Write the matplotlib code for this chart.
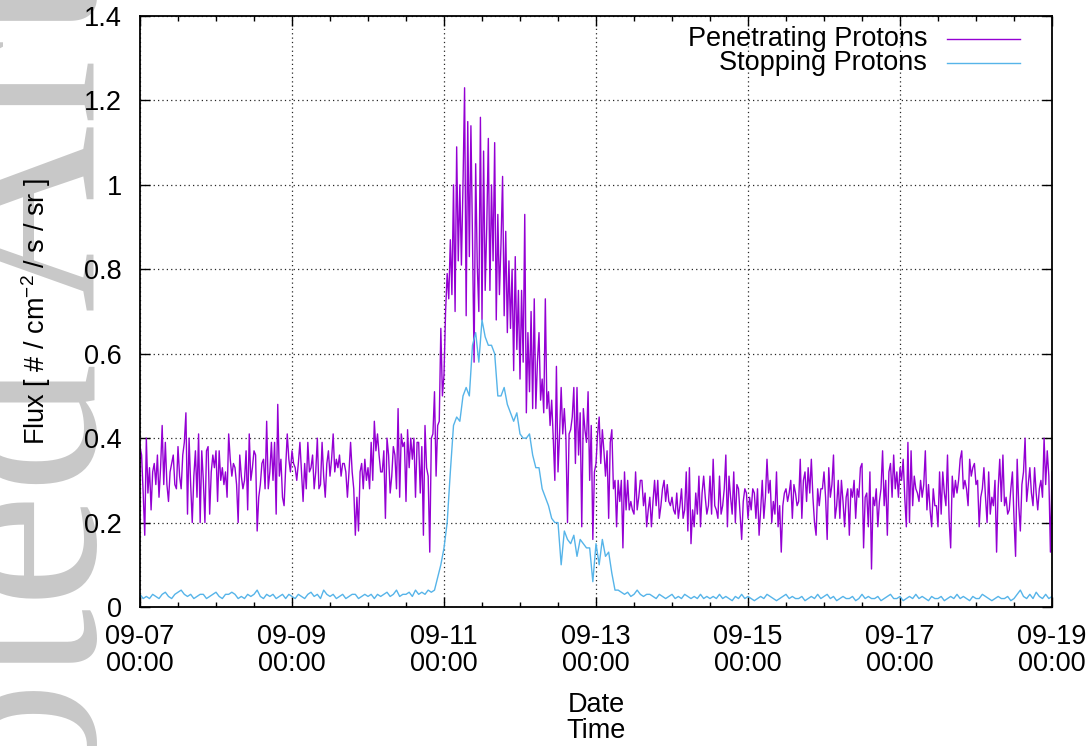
import matplotlib
matplotlib.use('Agg')
import matplotlib.pyplot as plt
import matplotlib.dates as mdates
from matplotlib.lines import Line2D
from datetime import datetime, timedelta

plt.rcParams['font.family'] = ['Liberation Sans', 'DejaVu Sans']
plt.rcParams['mathtext.fontset'] = 'custom'
plt.rcParams['mathtext.rm'] = 'Liberation Sans'
plt.rcParams['mathtext.default'] = 'regular'

# penetrating protons, 30-min samples starting 09-07 00:00
pen_0907 = [0.38, 0.36, 0.27, 0.17, 0.40, 0.27, 0.33, 0.23, 0.32, 0.34, 0.29, 0.36, 0.26, 0.33, 0.43, 0.29,
            0.39, 0.29, 0.25, 0.32, 0.34, 0.36, 0.29, 0.28, 0.38, 0.31, 0.28, 0.36, 0.39, 0.46, 0.22, 0.40,
            0.29, 0.20, 0.31, 0.37, 0.26, 0.41, 0.20, 0.37, 0.30, 0.20, 0.37, 0.38, 0.22, 0.32, 0.36, 0.33,
            0.37, 0.25, 0.37, 0.30, 0.33, 0.29, 0.32, 0.26, 0.41, 0.35, 0.31, 0.34, 0.33, 0.29, 0.20, 0.36,
            0.31, 0.28, 0.30, 0.37, 0.23, 0.41, 0.30, 0.33]
pen_0908 = [0.37, 0.36, 0.18, 0.26, 0.29, 0.34, 0.35, 0.28, 0.44, 0.28, 0.32, 0.39, 0.30, 0.39, 0.22, 0.48,
            0.31, 0.35, 0.26, 0.24, 0.33, 0.41, 0.35, 0.32, 0.37, 0.34, 0.33, 0.30, 0.34, 0.39, 0.32, 0.25,
            0.34, 0.28, 0.39, 0.32, 0.33, 0.36, 0.28, 0.32, 0.40, 0.28, 0.29, 0.39, 0.31, 0.26, 0.34, 0.37,
            0.31, 0.35, 0.41, 0.32, 0.35, 0.33, 0.36, 0.31, 0.34, 0.34, 0.32, 0.26, 0.32, 0.39, 0.32, 0.28,
            0.17, 0.26, 0.18, 0.32, 0.34, 0.28, 0.35, 0.30]
pen_0910 = [0.33, 0.28, 0.39, 0.30, 0.44, 0.37, 0.41, 0.36, 0.32, 0.32, 0.37, 0.21, 0.40, 0.36, 0.27, 0.31,
            0.38, 0.36, 0.28, 0.47, 0.26, 0.41, 0.38, 0.39, 0.25, 0.42, 0.33, 0.40, 0.35, 0.40, 0.26, 0.39,
            0.39, 0.27, 0.38, 0.17, 0.43, 0.33, 0.31, 0.13, 0.40, 0.41, 0.51, 0.31, 0.43, 0.44, 0.66, 0.50]
pen_onset = [0.55, 0.70, 0.79, 0.73, 0.87, 0.74, 1.00, 0.70, 1.09, 0.82, 1.00, 0.81, 1.00, 1.23, 0.69, 1.15,
             0.83, 1.14, 0.87, 0.58, 1.05, 0.81, 0.70]
pen_0911 = [1.16, 0.68, 1.08, 0.75, 0.90, 1.11, 0.75, 1.00, 0.82, 1.10, 0.68, 0.93, 0.74, 0.86, 1.02, 0.69,
            0.89, 0.65, 0.82, 0.66, 0.80, 0.56, 0.83, 0.61, 0.75, 0.54, 0.75, 0.58, 0.93, 0.46, 0.65, 0.51,
            0.70, 0.47, 0.73, 0.47, 0.58, 0.65, 0.49, 0.54, 0.46, 0.73, 0.47, 0.51, 0.43, 0.49, 0.40, 0.30,
            0.57, 0.32, 0.41, 0.52, 0.41, 0.47, 0.40, 0.20, 0.41, 0.42, 0.45, 0.52, 0.34, 0.52, 0.36, 0.46,
            0.19, 0.47, 0.42, 0.39, 0.51, 0.30, 0.43, 0.16]
pen_0913 = [0.32, 0.34, 0.41, 0.45, 0.34, 0.42, 0.37, 0.31, 0.37, 0.21, 0.39, 0.42, 0.28, 0.30, 0.19, 0.30,
            0.25, 0.30, 0.14, 0.32, 0.23, 0.30, 0.23, 0.25, 0.23, 0.22, 0.32, 0.23, 0.26, 0.30, 0.30, 0.24,
            0.27, 0.19, 0.23, 0.26, 0.19, 0.25, 0.30, 0.24, 0.30, 0.21, 0.24, 0.28, 0.30, 0.25, 0.29, 0.25,
            0.24, 0.26, 0.23, 0.22, 0.27, 0.21, 0.24, 0.28, 0.21, 0.23, 0.32, 0.18, 0.33, 0.15, 0.23, 0.19,
            0.27, 0.22, 0.31, 0.19, 0.27, 0.31, 0.26, 0.22]
pen_0914 = [0.24, 0.31, 0.22, 0.35, 0.24, 0.23, 0.21, 0.31, 0.22, 0.24, 0.28, 0.36, 0.19, 0.31, 0.26, 0.22,
            0.32, 0.20, 0.29, 0.28, 0.22, 0.16, 0.25, 0.28, 0.27, 0.21, 0.26, 0.23, 0.28, 0.27, 0.21, 0.28,
            0.17, 0.23, 0.30, 0.21, 0.26, 0.35, 0.27, 0.30, 0.20, 0.25, 0.22, 0.32, 0.19, 0.24, 0.13, 0.24,
            0.27, 0.28, 0.25, 0.27, 0.30, 0.21, 0.29, 0.27, 0.24, 0.25, 0.35, 0.21, 0.30, 0.32, 0.25, 0.33,
            0.27, 0.35, 0.26, 0.20, 0.17, 0.28, 0.24, 0.28]
pen_0916 = [0.28, 0.32, 0.26, 0.16, 0.33, 0.26, 0.29, 0.36, 0.21, 0.24, 0.30, 0.21, 0.30, 0.25, 0.19, 0.26,
            0.28, 0.17, 0.28, 0.26, 0.30, 0.21, 0.28, 0.26, 0.33, 0.34, 0.14, 0.26, 0.27, 0.19, 0.32, 0.09,
            0.26, 0.24, 0.28, 0.19, 0.25, 0.28, 0.37, 0.24, 0.30, 0.17, 0.32, 0.34, 0.26, 0.36, 0.28, 0.32,
            0.26, 0.33, 0.30, 0.35, 0.26, 0.19, 0.39, 0.20, 0.37, 0.24, 0.31, 0.28, 0.27, 0.25, 0.30, 0.26,
            0.29, 0.37, 0.23, 0.29, 0.23, 0.19, 0.28, 0.24]
pen_0917 = [0.24, 0.19, 0.32, 0.22, 0.32, 0.27, 0.24, 0.36, 0.21, 0.14, 0.31, 0.26, 0.30, 0.27, 0.30, 0.35,
            0.37, 0.28, 0.30, 0.28, 0.24, 0.35, 0.31, 0.33, 0.34, 0.29, 0.30, 0.19, 0.26, 0.28, 0.33, 0.26,
            0.20, 0.32, 0.22, 0.26, 0.24, 0.30, 0.13, 0.28, 0.35, 0.25, 0.36, 0.24, 0.26, 0.22, 0.23, 0.28,
            0.32, 0.21, 0.12, 0.35, 0.24, 0.18, 0.29, 0.32, 0.40, 0.25, 0.29, 0.33, 0.27, 0.24, 0.33, 0.27,
            0.23, 0.28, 0.30, 0.26, 0.40, 0.29, 0.37, 0.31, 0.13, 0.32]

# stopping protons, hourly samples starting 09-07 00:00
stop_0907 = [0.03, 0.02, 0.025, 0.02, 0.03, 0.025, 0.02, 0.03, 0.035, 0.025, 0.02, 0.03, 0.035, 0.04, 0.03, 0.025,
             0.03, 0.02, 0.025, 0.03, 0.03, 0.02, 0.025, 0.03, 0.035, 0.025, 0.02, 0.03, 0.03, 0.035, 0.03, 0.02,
             0.025, 0.02, 0.03, 0.025]
stop_0908 = [0.03, 0.04, 0.025, 0.02, 0.03, 0.025, 0.03, 0.02, 0.025, 0.03, 0.02, 0.03, 0.025, 0.02, 0.03, 0.025,
             0.02, 0.03, 0.035, 0.025, 0.03, 0.02, 0.04, 0.03, 0.025, 0.03, 0.02, 0.025, 0.03, 0.02, 0.025, 0.03,
             0.03, 0.02, 0.025, 0.03]
stop_0910 = [0.025, 0.03, 0.02, 0.03, 0.025, 0.03, 0.035, 0.025, 0.03, 0.04, 0.025, 0.03, 0.03, 0.035, 0.025, 0.04,
             0.03, 0.035, 0.03, 0.04, 0.035]
stop_onset = [0.04, 0.07, 0.10, 0.14, 0.20, 0.32, 0.43, 0.45, 0.44, 0.50, 0.52, 0.50, 0.62, 0.65, 0.58]
stop_decay = [0.68, 0.64, 0.62, 0.62, 0.60, 0.50, 0.50, 0.52, 0.48, 0.46, 0.44, 0.46, 0.41, 0.40, 0.40, 0.41,
              0.36, 0.33, 0.33, 0.28, 0.26, 0.24, 0.21, 0.20, 0.20, 0.10, 0.18, 0.16, 0.15, 0.17, 0.12, 0.16,
              0.15, 0.14, 0.14, 0.06]
stop_0913 = [0.15, 0.10, 0.16, 0.12, 0.13, 0.08, 0.04]
stop_0914 = [0.04, 0.035, 0.03, 0.035, 0.025, 0.03, 0.04, 0.03, 0.025, 0.03, 0.03, 0.025, 0.02, 0.03, 0.025, 0.02,
             0.025, 0.03, 0.02, 0.025, 0.02, 0.03, 0.025, 0.02, 0.025, 0.02, 0.03, 0.02, 0.025]
stop_0915 = [0.02, 0.025, 0.02, 0.03, 0.02, 0.025, 0.02, 0.015, 0.025, 0.02, 0.03, 0.02, 0.025, 0.02, 0.015, 0.02,
             0.025, 0.02, 0.03, 0.025, 0.02, 0.015, 0.02, 0.025, 0.03, 0.02, 0.025, 0.02, 0.02, 0.025, 0.015, 0.02,
             0.025, 0.02, 0.03, 0.02]
stop_0916 = [0.025, 0.03, 0.02, 0.025, 0.015, 0.02, 0.025, 0.02, 0.02, 0.025, 0.015, 0.02, 0.03, 0.02, 0.025, 0.02,
             0.02, 0.025, 0.015, 0.02, 0.025, 0.03, 0.02, 0.02, 0.025, 0.015, 0.02, 0.025, 0.02, 0.03, 0.02, 0.025,
             0.02, 0.015, 0.025, 0.02]
stop_0917 = [0.02, 0.025, 0.015, 0.02, 0.025, 0.02, 0.03, 0.02, 0.025, 0.02, 0.015, 0.025, 0.02, 0.02, 0.03, 0.025,
             0.02, 0.015, 0.02, 0.025, 0.02, 0.02, 0.025, 0.015, 0.02, 0.03, 0.04, 0.025, 0.02, 0.03, 0.02, 0.035,
             0.025, 0.02, 0.03, 0.02, 0.025]

penetrating = pen_0907 + pen_0908 + pen_0910 + pen_onset + pen_0911 + pen_0913 + pen_0914 + pen_0916 + pen_0917
stopping = stop_0907 + stop_0908 + stop_0910 + stop_onset + stop_decay + stop_0913 + stop_0914 + stop_0915 + stop_0916 + stop_0917

t0 = datetime(2017, 9, 7)
pen_time = [t0 + timedelta(minutes=30 * i) for i in range(len(penetrating))]
stop_time = [t0 + timedelta(hours=i) for i in range(len(stopping))]

fig = plt.figure(figsize=(10.92, 7.46), dpi=100)
ax = fig.add_axes([140 / 1092, 139 / 746, 912 / 1092, 591 / 746])

# watermark at the left edge
fig.text(95 / 1092, -0.80, 'Accepted Article', rotation=90, rotation_mode='anchor',
         ha='left', va='baseline', fontsize=187, family='Liberation Serif',
         color='#c8c8c8', zorder=-1)

purple = '#9400d3'
blue = '#56b4e9'
ax.plot(pen_time, penetrating, color=purple, lw=1.0)
ax.plot(stop_time, stopping, color=blue, lw=1.0)

ax.set_xlim(datetime(2017, 9, 7), datetime(2017, 9, 19))
ax.set_ylim(0, 1.4)
ax.set_yticks([0, 0.2, 0.4, 0.6, 0.8, 1.0, 1.2, 1.4])
ax.set_yticklabels(['0', '0.2', '0.4', '0.6', '0.8', '1', '1.2', '1.4'])
ax.xaxis.set_major_locator(mdates.DayLocator(interval=2))
ax.xaxis.set_minor_locator(mdates.HourLocator(byhour=[0, 12]))
ax.xaxis.set_major_formatter(mdates.DateFormatter('%m-%d\n%H:%M'))

fs = 19.5
ax.tick_params(which='both', direction='in', top=True, right=True, labelsize=fs)
ax.tick_params(which='major', length=7, width=1.0)
ax.tick_params(which='minor', length=3.5, width=1.0)
ax.tick_params(axis='x', pad=12)
ax.tick_params(axis='y', pad=13)
for lab in ax.get_xticklabels():
    lab.set_linespacing(1.05)
for s in ax.spines.values():
    s.set_linewidth(1.3)
ax.grid(True, which='major', color='black', linestyle=(0, (1, 2.5)), lw=0.9, alpha=0.85)

ax.set_ylabel('Flux [ # / cm$^{-2}$ / s / sr ]', fontsize=fs, labelpad=22)
ax.set_xlabel('Date\nTime', fontsize=fs, labelpad=11, linespacing=1.0)

# gnuplot style key: label right-aligned, sample line after it
key = [('Penetrating Protons', purple, 0.961), ('Stopping Protons', blue, 0.920)]
for name, col, yk in key:
    ax.text(0.863, yk, name, transform=ax.transAxes, ha='right', va='center', fontsize=fs)
    ax.add_line(Line2D([0.885, 0.965], [yk, yk], transform=ax.transAxes, color=col, lw=1.0))

fig.savefig('out.png', dpi=100)
